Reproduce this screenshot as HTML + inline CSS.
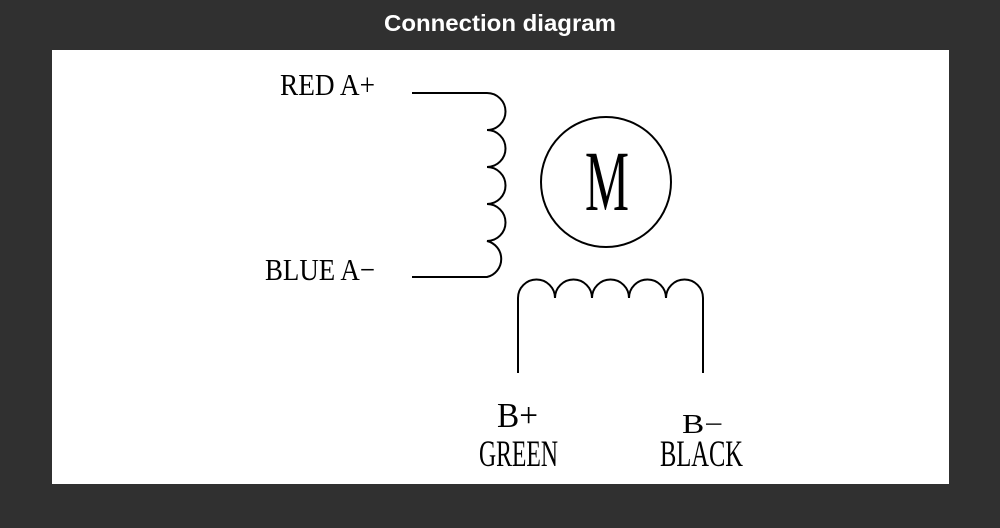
<!DOCTYPE html>
<html><head><meta charset="utf-8"><style>
html,body{margin:0;padding:0;background:#303030;}
svg{display:block;}
</style></head><body>
<svg width="1000" height="528" viewBox="0 0 1000 528" xmlns="http://www.w3.org/2000/svg">
<rect x="0" y="0" width="1000" height="528" fill="#303030"/>
<text x="500" y="31" text-anchor="middle" fill="#fff" font-family="Liberation Sans, sans-serif" font-weight="bold" font-size="23" textLength="232" lengthAdjust="spacingAndGlyphs">Connection diagram</text>
<rect x="52" y="50" width="897" height="434" fill="#fff"/>
<g fill="none" stroke="#000" stroke-width="2">
<path d="M412 93 H487 A18.5 18.5 0 0 1 487 130 A18.5 18.5 0 0 1 487 167 A18.5 18.5 0 0 1 487 204 A18.5 18.5 0 0 1 487 241 A18.5 18.5 0 0 1 487 277 H412"/>
<path d="M518 373 V298 A18.5 18.5 0 0 1 555 298 A18.5 18.5 0 0 1 592 298 A18.5 18.5 0 0 1 629 298 A18.5 18.5 0 0 1 666 298 A18.5 18.5 0 0 1 703 298 V373"/>
<circle cx="606" cy="182" r="65"/>
</g>
<g font-family="Liberation Serif, serif" fill="#000">
<text x="585" y="210" font-size="86" textLength="44" lengthAdjust="spacingAndGlyphs">M</text>
<text x="280" y="95" font-size="31" textLength="95" lengthAdjust="spacingAndGlyphs">RED A+</text>
<text x="265" y="280" font-size="31" textLength="110" lengthAdjust="spacingAndGlyphs">BLUE A−</text>
<text x="497" y="427" font-size="35" textLength="41" lengthAdjust="spacingAndGlyphs">B+</text>
<text x="479" y="466" font-size="37" textLength="79" lengthAdjust="spacingAndGlyphs">GREEN</text>
<text x="682" y="433" font-size="27" textLength="41" lengthAdjust="spacingAndGlyphs">B−</text>
<text x="660" y="466" font-size="37" textLength="83" lengthAdjust="spacingAndGlyphs">BLACK</text>
</g>
</svg>
</body></html>
